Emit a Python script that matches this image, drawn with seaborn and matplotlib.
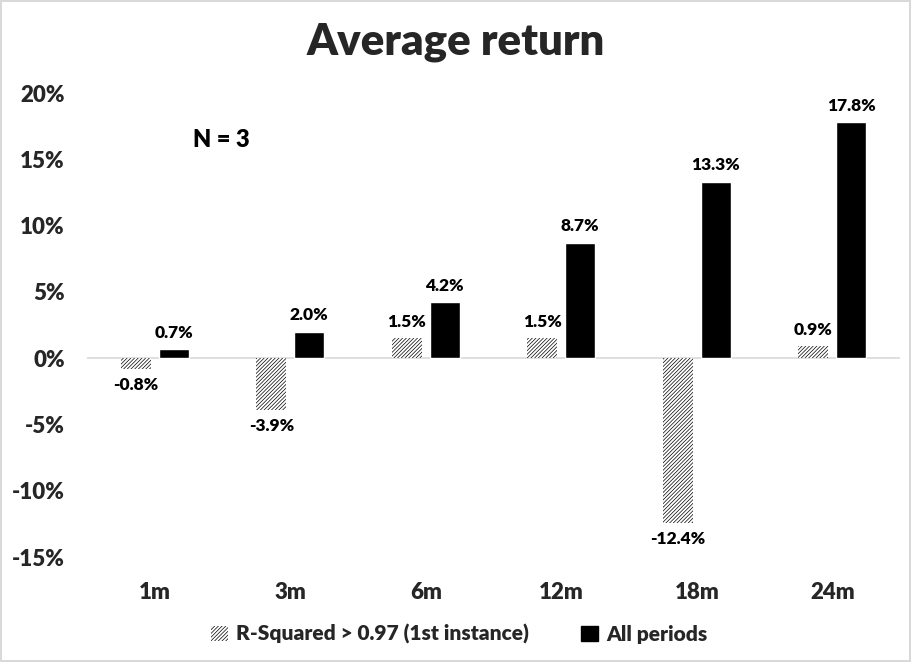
import matplotlib.pyplot as plt
import pandas as pd
import seaborn as sns
from matplotlib.patches import Patch

periods = ["1m", "3m", "6m", "12m", "18m", "24m"]
rsq_returns = [-0.8, -3.9, 1.5, 1.5, -12.4, 0.9]
all_returns = [0.7, 2.0, 4.2, 8.7, 13.3, 17.8]
series_names = ["R-Squared > 0.97 (1st instance)", "All periods"]
y_ticks = [-15, -10, -5, 0, 5, 10, 15, 20]

df = pd.DataFrame(
    {
        "period": periods * 2,
        "value": rsq_returns + all_returns,
        "series": [series_names[0]] * len(periods) + [series_names[1]] * len(periods),
    }
)

sns.set_style("white")
plt.rcParams["font.family"] = ["Lato", "DejaVu Sans"]
plt.rcParams["font.weight"] = "heavy"
plt.rcParams["hatch.linewidth"] = 0.5
text_color = "#262626"
wt = "heavy"
hatch = "/" * 9

fig = plt.figure(figsize=(9.11, 6.62), dpi=100)
ax = fig.add_axes([0.0955, 0.1586, 0.8925, 0.7009])

sns.barplot(
    data=df,
    x="period",
    y="value",
    hue="series",
    order=periods,
    hue_order=series_names,
    palette={series_names[0]: "white", series_names[1]: "black"},
    width=0.56,
    gap=0.21,
    legend=False,
    ax=ax,
)

# hatch the first series
for bar in ax.containers[0]:
    bar.set_hatch(hatch)
    bar.set_edgecolor("black")
    bar.set_linewidth(0)

# value labels
for cont, vals in zip(ax.containers, [rsq_returns, all_returns]):
    ax.bar_label(
        cont,
        labels=[f"{v:.1f}%" for v in vals],
        padding=6,
        fontsize=12.5,
        fontweight=wt,
        color="black",
    )

ax.set_ylim(-15, 20)
ax.set_yticks(y_ticks)
ax.set_yticklabels([f"{t}%" for t in y_ticks], fontsize=16, color=text_color,
                   fontweight=wt)
ax.set_xticklabels(periods, fontsize=16, color=text_color, fontweight=wt)
ax.set_xlim(-0.5, len(periods) - 0.5)
ax.tick_params(axis="x", length=0, pad=18)
ax.tick_params(axis="y", length=0, pad=16)
ax.set_xlabel("")
ax.set_ylabel("")
for s in ax.spines.values():
    s.set_visible(False)
ax.axhline(0, color="#d9d9d9", linewidth=1.2, zorder=0)

fig.text(0.5, 0.937, "Average return", ha="center", va="center",
         fontsize=31.5, fontweight=wt, color=text_color)
ax.text(0.13, 0.899, "N = 3", transform=ax.transAxes, fontsize=17,
        fontweight=wt, color="black", va="center")

handles = [
    Patch(facecolor="white", edgecolor="black", hatch=hatch, linewidth=0),
    Patch(facecolor="black", edgecolor="black"),
]
fig.legend(
    handles,
    series_names,
    loc="center",
    bbox_to_anchor=(0.504, 0.042),
    ncol=2,
    frameon=False,
    handlelength=0.8,
    handleheight=0.8,
    handletextpad=0.4,
    columnspacing=2.5,
    labelcolor=text_color,
    prop={"size": 15, "weight": wt},
)

fig.patch.set_edgecolor("#d9d9d9")
fig.patch.set_linewidth(1.5)
fig.savefig("out.png", dpi=100)
